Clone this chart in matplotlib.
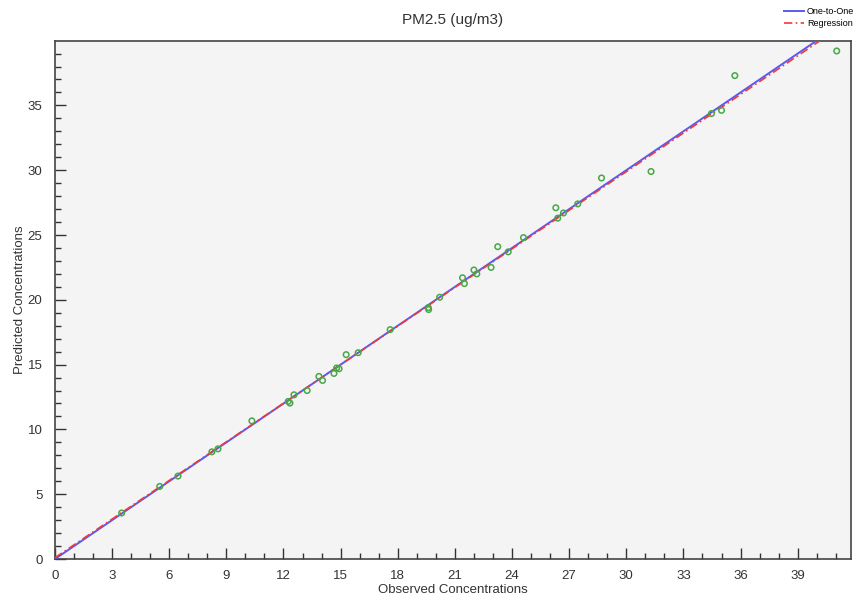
import matplotlib
matplotlib.use('Agg')
import matplotlib.pyplot as plt
from matplotlib.ticker import MultipleLocator
import numpy as np

plt.rcParams['font.family'] = ['Liberation Sans', 'DejaVu Sans']

# observed vs predicted PM2.5
observed = [3.5, 5.5, 6.46, 8.24, 8.56, 10.34, 12.25, 12.34, 12.55, 13.24,
            13.86, 14.05, 14.65, 14.79, 14.92, 15.29, 15.92, 17.6, 19.6, 19.62,
            20.2, 21.4, 21.5, 22.0, 22.15, 22.9, 23.25, 23.8, 24.6, 26.3,
            26.4, 26.7, 27.45, 28.7, 31.3, 34.47, 35.0, 35.7, 41.05]
predicted = [3.55, 5.6, 6.4, 8.27, 8.5, 10.66, 12.16, 12.03, 12.67, 13.0,
             14.09, 13.78, 14.32, 14.74, 14.68, 15.77, 15.92, 17.7, 19.4, 19.25,
             20.2, 21.7, 21.25, 22.3, 22.0, 22.5, 24.1, 23.7, 24.8, 27.1,
             26.3, 26.7, 27.4, 29.4, 29.9, 34.37, 34.62, 37.3, 39.2]

reg_intercept = 0.1
reg_slope = 0.993

fig = plt.figure(figsize=(8.63, 6.02), dpi=100)
ax = fig.add_axes([0.0637, 0.0714, 0.9224, 0.8605])
ax.set_facecolor('#f4f4f4')

line_x = np.array([0, 42])
ax.plot(line_x, line_x, color='#5a5af0', lw=1.4, label='One-to-One', zorder=3)
ax.plot(line_x, reg_intercept + reg_slope * line_x, color='#ee3a3a', lw=1.2,
        ls=(0, (5, 2, 1, 2)), label='Regression', zorder=4)
ax.scatter(observed, predicted, s=16, facecolors='none', edgecolors='#46a846',
           linewidths=1.1, zorder=5)

ax.set_xlim(0, 41.8)
ax.set_ylim(0, 39.97)
ax.xaxis.set_major_locator(MultipleLocator(3))
ax.xaxis.set_minor_locator(MultipleLocator(1))
ax.yaxis.set_major_locator(MultipleLocator(5))
ax.yaxis.set_minor_locator(MultipleLocator(1))
ax.tick_params(which='both', direction='in', colors='#333333', labelsize=9.5)
ax.tick_params(which='major', length=8, width=1)
ax.tick_params(which='minor', length=4, width=1)
ax.tick_params(axis='x', which='major', pad=8)
ax.tick_params(axis='y', which='major', pad=9)
for sp in ax.spines.values():
    sp.set_color('#444444')
    sp.set_linewidth(1.2)

ax.set_xlabel('Observed Concentrations', fontsize=9.5, color='#333333', labelpad=1)
ax.set_ylabel('Predicted Concentrations', fontsize=9.5, color='#333333', labelpad=1)
ax.set_title('PM2.5 (ug/m3)', fontsize=11, color='#333333', pad=12)

fig.legend(loc='upper right', bbox_to_anchor=(0.998, 1.0), frameon=False,
           fontsize=6.5, handlelength=2.2, labelspacing=0.3, borderpad=0.3,
           handletextpad=0.3)

fig.savefig('out.png', dpi=100, facecolor='white')
